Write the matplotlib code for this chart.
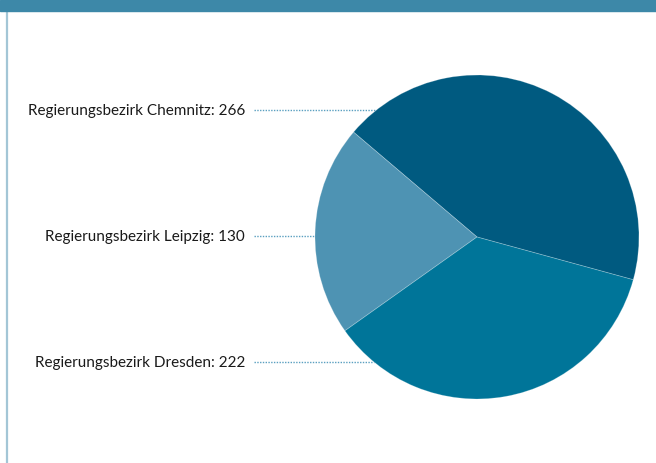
import matplotlib
matplotlib.use("Agg")
import matplotlib.pyplot as plt
from matplotlib.patches import Rectangle
import numpy as np

categories = ["Regierungsbezirk Chemnitz", "Regierungsbezirk Leipzig", "Regierungsbezirk Dresden"]
values = [266, 130, 222]
colors = ["#005a80", "#4e93b3", "#007599"]

W, H = 656, 463
fig = plt.figure(figsize=(W / 100, H / 100), dpi=100)
ax = fig.add_axes([0, 0, 1, 1])

cx, cy, r = 477, H - 237, 162
wedges, _ = ax.pie(values, colors=colors, startangle=-15.3, counterclock=True,
                   center=(cx, cy), radius=r,
                   wedgeprops=dict(linewidth=0.6, edgecolor=(1, 1, 1, 0.25)))
ax.set_xlim(0, W)
ax.set_ylim(0, H)
ax.set_aspect("auto")
ax.axis("off")

# header bar and left rule
ax.add_patch(Rectangle((0, H - 11), W, 11, color="#3d88a8", zorder=5, clip_on=False))
ax.plot([7, 7], [0, H - 11], color="#a3c6d6", lw=1.6, solid_capstyle="butt")

label_y = [111, 237, 363]
text_x = 245
line_x0 = 254
for name, v, ly in zip(categories, values, label_y):
    y = H - ly
    ax.text(text_x, y, f"{name}: {v}", ha="right", va="center",
            fontsize=11.0, family=["Lato", "DejaVu Sans"], color="#1a1a1a")
    yl = y + 1
    xe = cx - np.sqrt(max(r**2 - (yl - cy) ** 2, 0))
    ax.plot([line_x0, xe], [yl, yl], color="#5a9fc0", lw=1.0, ls=(0, (1, 1)), zorder=0)

fig.savefig("out.png", dpi=100)
